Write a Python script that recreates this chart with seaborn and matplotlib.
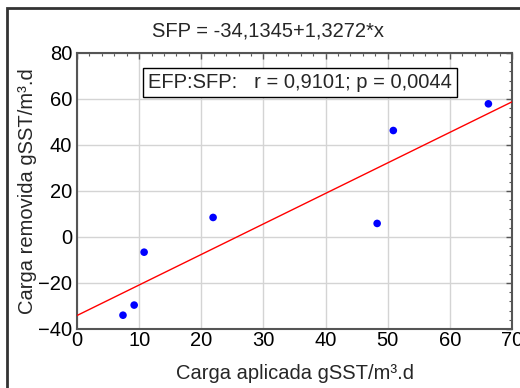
import numpy as np
import pandas as pd
import matplotlib
matplotlib.use("Agg")
import matplotlib.pyplot as plt
from matplotlib.patches import Rectangle
from matplotlib.ticker import MultipleLocator
import seaborn as sns

# Applied vs removed load (gSST/m³.d)
carga_aplicada = [7.4, 9.2, 10.8, 21.9, 48.3, 50.9, 66.2]
carga_removida = [-34.0, -29.6, -6.6, 8.5, 5.9, 46.3, 57.9]

# Regression coefficients and correlation stats
intercepto = -34.1345
pendiente = 1.3272
r_val = "0,9101"
p_val = "0,0044"

x_ticks = [0, 10, 20, 30, 40, 50, 60, 70]
y_ticks = [-40, -20, 0, 20, 40, 60, 80]

sns.set_style("white")
plt.rcParams["font.family"] = ["Liberation Sans", "DejaVu Sans"]

FS = 14.5

df = pd.DataFrame({"x": carga_aplicada, "y": carga_removida})
x_line = np.array([x_ticks[0], x_ticks[-1]], dtype=float)
df_line = pd.DataFrame({"x": x_line, "y": intercepto + pendiente * x_line})

fig = plt.figure(figsize=(5.2, 3.88), dpi=100)
fig.patch.set_facecolor("white")
ax = fig.add_axes([77 / 520, 59 / 388, 435 / 520, 276 / 388])

# Outer frame around the graph window
fig.patches.append(Rectangle((7 / 520, -0.1), 1.2, (388 - 8) / 388 + 0.1,
                             transform=fig.transFigure, fill=False,
                             edgecolor="#333333", linewidth=2.0))

ax.grid(True, color="#d4d4d4", linewidth=1.0, zorder=0)
sns.lineplot(data=df_line, x="x", y="y", ax=ax, color="#ff0000",
             linewidth=1.0, zorder=3)
sns.scatterplot(data=df, x="x", y="y", ax=ax, color="#0000ff", s=30,
                edgecolor="none", zorder=4)

ax.set_xlim(x_ticks[0], x_ticks[-1])
ax.set_ylim(y_ticks[0], y_ticks[-1])
ax.set_xticks(x_ticks)
ax.set_yticks(y_ticks)
ax.xaxis.set_minor_locator(MultipleLocator(2))
ax.yaxis.set_minor_locator(MultipleLocator(4))
ax.tick_params(which="both", direction="in", top=True, right=True,
               color="#555555", labelsize=FS, labelcolor="black")
ax.tick_params(which="major", length=4, width=1.0)
ax.tick_params(which="minor", length=2.5, width=0.8)
ax.tick_params(axis="x", which="major", pad=1.5)
ax.tick_params(axis="y", which="major", pad=3.5)
for s in ax.spines.values():
    s.set_color("#555555")
    s.set_linewidth(1.5)

ax.set_xlabel("Carga aplicada gSST/m³.d", fontsize=FS, labelpad=10)
ax.set_ylabel("Carga removida gSST/m³.d", fontsize=FS, labelpad=1)

fig.text(268 / 520, 1 - 31 / 388, "SFP = -34,1345+1,3272*x",
         ha="center", va="center", fontsize=FS)

ax.text(0.513, 0.894, f"EFP:SFP:   r = {r_val}; p = {p_val}",
        transform=ax.transAxes, ha="center", va="center", fontsize=FS,
        bbox=dict(boxstyle="square,pad=0.25", facecolor="white",
                  edgecolor="black", linewidth=1.0), zorder=5)

fig.savefig("out.png", dpi=100, facecolor="white")
